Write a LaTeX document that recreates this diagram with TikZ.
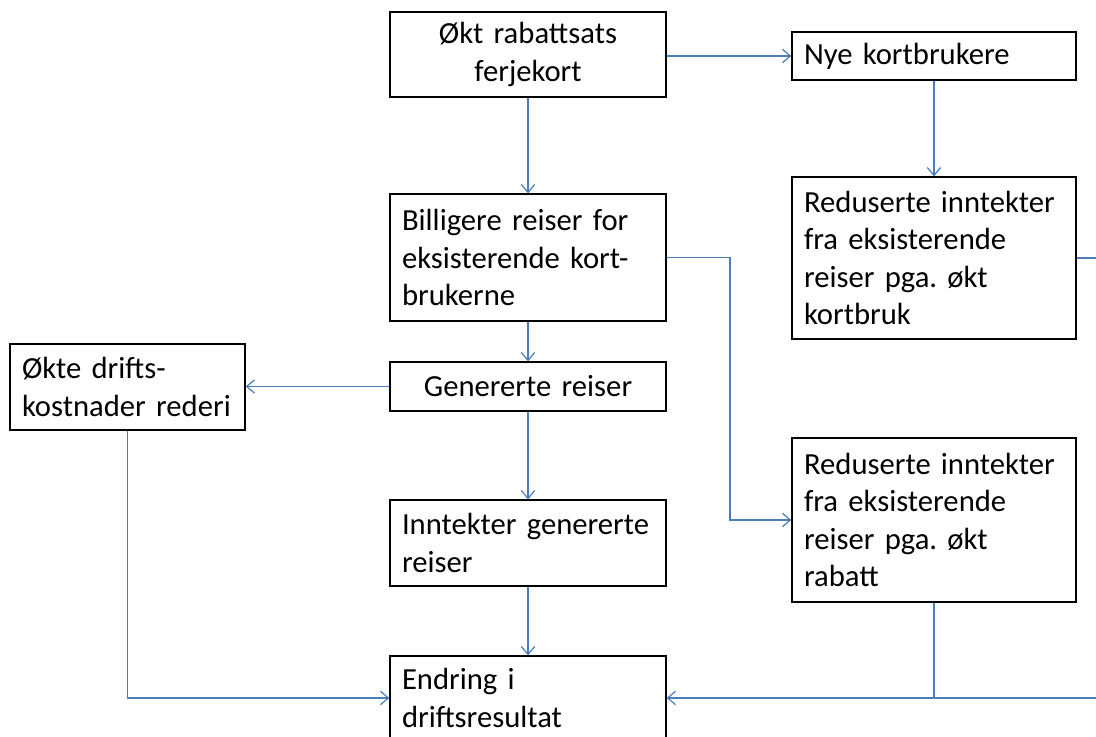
\documentclass[tikz,border=0pt]{standalone}
\usepackage{fontspec}
\setmainfont{Carlito}[WordSpace=0.7]
\frenchspacing
\usetikzlibrary{positioning, arrows.meta}
\definecolor{linkblue}{RGB}{74,126,187}
\tikzset{
  box/.style={draw, line width=0.9pt, inner xsep=9pt, inner ysep=0pt,
              font=\fontsize{23}{28}\selectfont, align=left},
  link/.style={draw=linkblue, line width=0.9pt, -{Straight Barb[length=6pt,width=10pt]}},
  plain/.style={draw=linkblue, line width=0.9pt},
}

\begin{document}
\begin{tikzpicture}[x=0.75pt, y=-0.75pt]
  \useasboundingbox (0,0) rectangle (1096,737);
  \clip (0,0) rectangle (1096,737);

  \node[box, text width=189pt, align=center, minimum height=63.75pt] (rabatt) at (528,54.5) {Økt rabattsats\\ferjekort};
  \node[box, text width=195pt, minimum height=36pt] (nye) at (934,56) {Nye kortbrukere};
  \node[box, text width=189pt, minimum height=95.25pt] (billig) at (528,257.5) {Billigere reiser for\\eksisterende kort-\\brukerne};
  \node[box, text width=195pt, minimum height=121.5pt] (redkort) at (934,258) {Reduserte inntekter\\fra eksisterende\\reiser pga. økt\\kortbruk};
  \node[box, text width=158.25pt, minimum height=64.5pt] (drift) at (127.5,387) {Økte drifts-\\kostnader rederi};
  \node[box, text width=189pt, align=center, minimum height=36.75pt] (gen) at (528,386.5) {Genererte reiser};
  \node[box, text width=189pt, minimum height=64.5pt] (inntgen) at (528,543) {Inntekter genererte\\reiser};
  \node[box, text width=195pt, minimum height=123pt] (redrab) at (934,520) {Reduserte inntekter\\fra eksisterende\\reiser pga. økt\\rabatt};
  \node[box, text width=189pt, minimum height=63pt] (endring) at (528,698) {Endring i\\driftsresultat};

  % connectors
  \coordinate (knee) at (730,520);
  \coordinate (edge) at (1110,698);
  \draw[link] (rabatt.east |- nye.west) -- (nye.west);
  \draw[link] (rabatt) -- (billig);
  \draw[link] (nye) -- (redkort);
  \draw[link] (billig) -- (gen);
  \draw[link] (gen.west) -- (drift.east |- gen.west);
  \draw[link] (gen) -- (inntgen);
  \draw[link] (billig.east) -| (knee) -- (redrab.west);
  \draw[link] (inntgen) -- (endring);
  \draw[link] (drift.south) |- (endring.west);
  \draw[link] (redkort.east) -| (edge) -- (endring.east);
  \draw[plain] (redrab.south) -- (redrab.south |- endring.east);
\end{tikzpicture}
\end{document}
